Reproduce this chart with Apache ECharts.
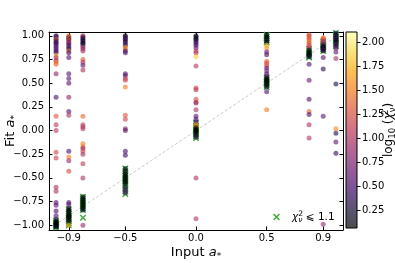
<!DOCTYPE html>
<html><head><meta charset="utf-8">
<script src="https://cdn.jsdelivr.net/npm/echarts@6/dist/echarts.min.js"></script>
<style>html,body{margin:0;padding:0;background:#fff}#c{width:395px;height:263px}</style>
</head><body><div id="c"></div>
<script>
// ---- data ----
const inputs = [-0.99, -0.9, -0.8, -0.5, 0, 0.5, 0.8, 0.9, 0.99];

const fitN099 = [1.00,0.99,0.97,0.96,0.95,0.93,0.92,0.90,0.88,0.86,0.84,0.82,0.79,0.77,0.74,0.72,0.70,0.60,0.35,0.15,0.06,0.00,-0.23,-0.29,-0.60,-0.64,-0.76,-0.79,-0.85,-0.90,-0.94,-0.96,-0.97,-0.98,-0.99,-1.00,-1.01,-1.02];
const chiN099 = [0.25,0.5,0.4,1.6,0.45,0.5,0.35,0.55,0.5,0.6,0.45,0.5,1.8,1.0,0.9,1.5,1.4,0.85,0.5,1.3,1.1,1.05,1.2,1.15,1.0,1.0,0.55,0.6,0.5,0.5,0.3,0.12,0.08,0.1,0.08,0.08,0.12,0.2];
const greenN099 = [-0.95,-0.97,-0.98,-0.99,-1.00,-1.01,-1.02];

const fitN090 = [1.00,0.99,0.98,0.97,0.96,0.95,0.93,0.92,0.90,0.88,0.86,0.84,0.82,0.77,0.60,0.55,0.50,0.35,0.20,0.16,-0.22,-0.28,-0.32,-0.43,-0.76,-0.78,-0.82,-0.84,-0.86,-0.88,-0.90,-0.91,-0.92,-0.94,-0.96,-1.00];
const chiN090 = [1.5,1.3,0.4,1.6,0.3,1.2,0.5,1.0,0.4,0.6,0.3,1.4,0.5,0.55,0.6,0.6,0.6,0.85,0.55,1.0,0.5,1.5,0.9,1.2,0.5,0.55,0.2,0.1,0.08,0.12,0.08,0.08,0.1,0.12,0.2,1.6];
const greenN090 = [-0.83,-0.86,-0.88,-0.90,-0.92,-0.94,-0.96,-0.98,-1.00];

const fitN080 = [1.00,0.99,0.98,0.96,0.95,0.93,0.92,0.90,0.88,0.86,0.84,0.75,0.72,0.69,0.64,0.15,0.06,0.04,0.02,-0.14,-0.17,-0.19,-0.22,-0.25,-0.35,-0.50,-0.70,-0.72,-0.74,-0.76,-0.78,-0.80,-0.82,-0.84,-1.00];
const chiN080 = [0.9,1.1,0.2,0.5,0.15,0.4,0.12,0.3,1.05,0.8,1.0,1.3,1.0,0.6,1.0,1.4,1.1,1.05,1.05,1.5,1.45,0.85,1.2,1.0,1.1,1.0,0.12,0.2,0.08,0.1,0.08,0.08,0.12,0.2,0.9];
const greenN080 = [-0.70,-0.72,-0.74,-0.76,-0.78,-0.80,-0.82,-0.84,-0.92];

const fitN050 = [1.00,0.99,0.97,0.96,0.94,0.92,0.90,0.88,0.86,0.84,0.82,0.60,0.58,0.55,0.53,0.46,0.16,0.12,0.02,0.00,-0.22,-0.26,-0.40,-0.43,-0.46,-0.48,-0.50,-0.52,-0.54,-0.56,-0.60,-0.63,-0.66];
const chiN050 = [0.3,0.15,0.4,0.5,0.2,0.45,0.35,1.5,1.45,0.5,0.55,0.6,0.55,1.1,1.2,1.5,1.3,1.2,0.85,0.6,0.5,0.45,0.12,0.2,0.08,0.1,0.08,0.12,0.08,0.15,0.3,0.45,0.5];
const greenN050 = [-0.40,-0.43,-0.46,-0.48,-0.50,-0.52,-0.54,-0.56,-0.58,-0.61,-0.64,-0.67];

const fitZ = [1.00,0.99,0.97,0.96,0.94,0.92,0.90,0.87,0.84,0.82,0.78,0.68,0.45,0.43,0.33,0.30,0.29,0.22,0.15,0.12,0.09,0.06,0.04,0.03,0.01,0.00,-0.01,-0.03,-0.05,-0.07,-0.50,-0.93];
const chiZ = [0.2,0.12,0.3,0.15,0.4,0.5,0.45,0.6,1.1,1.05,1.85,1.05,1.15,1.1,1.3,1.2,0.85,1.0,0.6,0.5,0.55,1.6,1.5,0.12,0.08,0.08,0.1,0.08,0.2,0.4,1.0,1.05];
const greenZ = [0.08,0.05,0.03,0.01,0.00,-0.02,-0.04,-0.06,-0.08];

const fitP050 = [1.01,0.99,0.97,0.95,0.93,0.90,0.87,0.83,0.80,0.73,0.71,0.69,0.66,0.63,0.60,0.57,0.55,0.53,0.52,0.50,0.48,0.46,0.41,0.22];
const chiP050 = [0.2,0.08,0.12,0.3,0.15,1.8,1.6,0.6,0.55,1.4,1.2,1.3,0.5,0.8,0.45,0.55,0.08,0.12,0.08,0.1,0.08,0.2,0.55,1.5];
const greenP050 = [1.01,0.99,0.97,0.95,0.93,0.56,0.54,0.52,0.50,0.48,0.46];

const fitP080 = [1.01,1.00,0.98,0.96,0.94,0.92,0.90,0.88,0.85,0.83,0.81,0.80,0.79,0.78,0.70,0.53,0.33,0.20,0.17,0.06,-0.08];
const chiP080 = [1.3,1.2,1.4,1.2,1.5,1.3,1.2,1.1,0.2,0.08,0.1,0.08,0.12,0.3,0.55,0.65,0.55,1.35,0.5,1.0,1.05];
const greenP080 = [0.86,0.84,0.82,0.80,0.78,0.77];

const fitP090 = [0.98,0.97,0.96,0.94,0.92,0.91,0.89,0.88,0.87,0.86,0.85,0.84,0.77,0.65,0.15,-0.99];
const chiP090 = [1.4,1.5,1.2,0.9,1.3,0.5,0.2,0.08,0.4,0.12,0.5,0.3,0.55,0.35,0.6,0.9];
const greenP090 = [0.94,0.92,0.90,0.88,0.86,0.84];

const fitP099 = [1.03,1.01,0.99,0.98,0.96,0.95,0.93,0.91,0.89,0.87,0.83,0.76,0.49,0.02,-0.03,-0.12,-0.24];
const chiP099 = [0.3,0.08,0.6,0.12,0.5,0.2,0.08,0.55,0.3,0.6,0.6,1.0,0.3,1.55,0.3,0.6,0.4];
const greenP099 = [1.03,1.01,0.99,0.97,0.95,0.93,0.91,0.89];

const xTicks = [-0.9, -0.5, 0.0, 0.5, 0.9];
const yTicks = [-1.0, -0.75, -0.5, -0.25, 0.0, 0.25, 0.5, 0.75, 1.0];
const cbTicks = [0.25, 0.5, 0.75, 1.0, 1.25, 1.5, 1.75, 2.0];
const cbMin = 0.07, cbMax = 2.11;
const diagX = [-1, 1];
const diagY = [-1, 1];

// ---- build ----
const fitCols = [fitN099, fitN090, fitN080, fitN050, fitZ, fitP050, fitP080, fitP090, fitP099];
const chiCols = [chiN099, chiN090, chiN080, chiN050, chiZ, chiP050, chiP080, chiP090, chiP099];
const greenCols = [greenN099, greenN090, greenN080, greenN050, greenZ, greenP050, greenP080, greenP090, greenP099];

const pts = [];
fitCols.forEach((col, i) => col.forEach((f, j) => pts.push([inputs[i], f, chiCols[i][j]])));
const greens = [];
greenCols.forEach((col, i) => col.forEach(f => greens.push([inputs[i], f])));
const diag = diagX.map((x, i) => [x, diagY[i]]);

const inferno = ['#000004','#160b39','#420a68','#6a176e','#932667','#bc3754','#dd513a','#f37819','#fca50a','#f6d746','#fcffa4'];
const minus = s => s.replace('-', '\u2212');
const FONT = 'DejaVu Sans';
const xPath = 'path://M1.6,0 L5,3.4 L8.4,0 L10,1.6 L6.6,5 L10,8.4 L8.4,10 L5,6.6 L1.6,10 L0,8.4 L3.4,5 L0,1.6 Z';
const GREEN = '#2ca02c';

const nameRich = {
  n: {fontFamily: FONT, fontSize: 13, color: '#000', lineHeight: 17},
  i: {fontFamily: FONT, fontSize: 13, fontStyle: 'italic', color: '#000', lineHeight: 17},
  s: {fontFamily: FONT, fontSize: 9, color: '#000', lineHeight: 8, verticalAlign: 'bottom'},
  s2: {fontFamily: FONT, fontSize: 9, color: '#000', lineHeight: 8, verticalAlign: 'bottom'},
  p: {fontFamily: FONT, fontSize: 9, color: '#000', lineHeight: 8, verticalAlign: 'top', width: 0}
};
const cbRich = {
  n: {fontFamily: FONT, fontSize: 12, color: '#000', lineHeight: 16},
  i: {fontFamily: FONT, fontSize: 12, fontStyle: 'italic', color: '#000', lineHeight: 16},
  s2: {fontFamily: FONT, fontSize: 8.5, color: '#000', lineHeight: 8, verticalAlign: 'bottom'},
  p: {fontFamily: FONT, fontSize: 8.5, color: '#000', lineHeight: 8, verticalAlign: 'top', width: 0}
};

const chart = echarts.init(document.getElementById('c'), null, {renderer: 'canvas'});
const axisLine = {show: true, onZero: false, lineStyle: {color: '#000', width: 1}};
const labelStyle = {fontFamily: FONT, fontSize: 10, color: '#000'};

chart.setOption({
  animation: false,
  backgroundColor: '#fff',
  grid: [
    {left: 49, right: 52, top: 32, bottom: 33, outerBoundsMode: 'none', containLabel: false},
    {left: 346, width: 11, top: 32, bottom: 35, outerBoundsMode: 'none', containLabel: false}
  ],
  xAxis: [
    {gridIndex: 0, type: 'value', min: -1.04, max: 1.04, axisLine,
     axisTick: {inside: true, length: 3.5, customValues: xTicks, lineStyle: {color: '#000'}},
     axisLabel: Object.assign({customValues: xTicks, margin: 3,
        formatter: v => minus(v.toFixed(1))}, labelStyle),
     splitLine: {show: false},
     name: '{n|Input }{i|a}{s|*}', nameLocation: 'middle', nameGap: 14, nameMoveOverlap: false,
     nameTextStyle: {rich: nameRich}},
    {gridIndex: 0, type: 'value', position: 'top', min: -1.04, max: 1.04, axisLine,
     axisTick: {inside: true, length: 3.5, customValues: xTicks, lineStyle: {color: '#000'}},
     axisLabel: {show: false}, splitLine: {show: false}},
    {gridIndex: 1, type: 'value', min: 0, max: 1, show: false}
  ],
  yAxis: [
    {gridIndex: 0, type: 'value', min: -1.05, max: 1.04, axisLine,
     axisTick: {inside: true, length: 3.5, customValues: yTicks, lineStyle: {color: '#000'}},
     axisLabel: Object.assign({customValues: yTicks, margin: 5,
        formatter: v => minus(v.toFixed(2))}, labelStyle),
     splitLine: {show: false},
     name: '{n|Fit }{i|a}{s|*}', nameLocation: 'middle', nameGap: 30, nameMoveOverlap: false,
     nameTextStyle: {rich: nameRich}},
    {gridIndex: 0, type: 'value', position: 'right', min: -1.05, max: 1.04, axisLine,
     axisTick: {inside: true, length: 3.5, customValues: yTicks, lineStyle: {color: '#000'}},
     axisLabel: {show: false}, splitLine: {show: false}},
    {gridIndex: 1, type: 'value', position: 'right', min: cbMin, max: cbMax,
     axisLine: {show: false, onZero: false},
     axisTick: {show: true, inside: false, length: 3.5, customValues: cbTicks, lineStyle: {color: '#000'}},
     axisLabel: Object.assign({customValues: cbTicks, margin: 5, formatter: v => v.toFixed(2)}, labelStyle),
     splitLine: {show: false},
     name: '{n|log}{s2|10}{n| (}{i|\u03c7}{p|2}{s2|\u03bd}{n|)}', nameLocation: 'middle', nameGap: 24, nameMoveOverlap: false,
     nameTextStyle: {rich: cbRich}}
  ],
  visualMap: {
    type: 'continuous', show: false, seriesIndex: 2, dimension: 2,
    min: cbMin, max: cbMax, inRange: {color: inferno}
  },
  legend: {
    left: 268, top: 205, itemWidth: 7, itemHeight: 7, itemGap: 0,
    data: [{name: 'chi', icon: xPath}],
    formatter: () => '{i|\u03c7}{p|2}{v|\u03bd}{n| \u2a7d 1.1}',
    textStyle: {padding: [0, 0, 0, 7], rich: {
      n: {fontFamily: FONT, fontSize: 10.5, color: '#000', lineHeight: 14},
      i: {fontFamily: FONT, fontSize: 10.5, fontStyle: 'italic', color: '#000', lineHeight: 14},
      p: {fontFamily: FONT, fontSize: 7.5, color: '#000', lineHeight: 7, verticalAlign: 'top', width: 0},
      v: {fontFamily: FONT, fontSize: 7.5, fontStyle: 'italic', color: '#000', lineHeight: 7, verticalAlign: 'bottom'}
    }}
  },
  series: [
    {type: 'line', xAxisIndex: 0, yAxisIndex: 0, data: diag, symbol: 'none', silent: true, z: 1,
     lineStyle: {color: '#c4c4c4', width: 0.9, type: [3, 2]}},
    {name: 'chi', type: 'scatter', xAxisIndex: 0, yAxisIndex: 0, data: greens, symbol: xPath, symbolSize: 6.5, z: 2,
     itemStyle: {color: GREEN, opacity: 0.9}},
    {type: 'scatter', xAxisIndex: 0, yAxisIndex: 0, data: pts, symbolSize: 5, z: 3,
     itemStyle: {opacity: 0.6}},
    {type: 'custom', xAxisIndex: 2, yAxisIndex: 2, data: [[0, cbMin, 1, cbMax]], silent: true,
     renderItem: (params, api) => {
       const tl = api.coord([api.value(0), api.value(3)]);
       const br = api.coord([api.value(2), api.value(1)]);
       const stops = inferno.slice().reverse().map((c, k) => ({offset: k / (inferno.length - 1), color: c}));
       const shape = {x: tl[0], y: tl[1], width: br[0] - tl[0], height: br[1] - tl[1]};
       return {type: 'group', children: [
         {type: 'rect', shape, style: {fill: new echarts.graphic.LinearGradient(0, 0, 0, 1, stops), opacity: 0.7}},
         {type: 'rect', shape, style: {fill: 'none', stroke: '#000', lineWidth: 1}}
       ]};
     }}
  ]
});
</script></body></html>
